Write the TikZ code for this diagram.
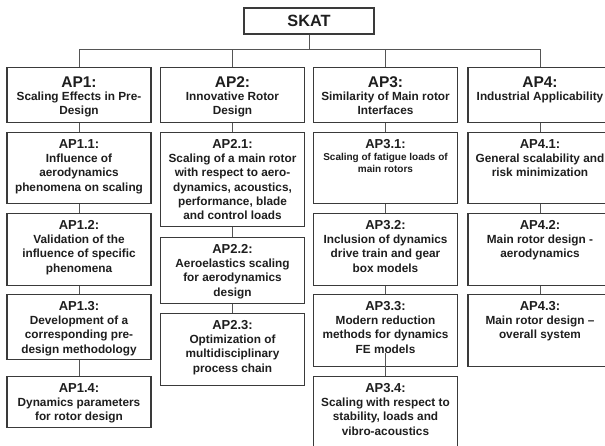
\documentclass[tikz,border=0pt]{standalone}
\usepackage{fontspec}
\setmainfont{Liberation Sans}
\definecolor{boxline}{HTML}{3A3A3A}
\definecolor{conline}{HTML}{555555}
\definecolor{txt}{HTML}{1E1E1E}
\newcommand{\bodyfont}{\fontsize{11.8}{14.3}\selectfont\bfseries}
\newcommand{\smallbody}{\fontsize{10}{12.9}\selectfont\bfseries}
\newcommand{\subtitlefont}{\fontsize{13}{14.3}\selectfont\bfseries}
\newcommand{\toptitlefont}{\fontsize{15.5}{14.3}\selectfont\bfseries}
% sub box: name, cx, top, height, title, body
\newcommand{\subbox}[6]{%
  \node[apbox, anchor=north] (#1) at (#2,#3)
    {\parbox[c][#4pt][t]{144pt}{\centering\bodyfont\rule{0pt}{15.5pt}{\subtitlefont #5}\\#6}};}
\newcommand{\topbox}[5]{%
  \node[apbox, anchor=north] (#1) at (#2,#3)
    {\parbox[c][#4pt][t]{144pt}{\centering\bodyfont\rule{0pt}{20pt}{\toptitlefont #5}\\[-1pt]#5}};}
\tikzset{
  apbox/.style={draw=boxline, line width=1.3pt, inner sep=0pt, text=txt, fill=white},
  conn/.style={draw=conline, line width=1pt},
}
\begin{document}
\begin{tikzpicture}[x=1pt,y=-1pt]
\path[use as bounding box, clip] (0,0) rectangle (605,446);
\fill[white] (0,0) rectangle (605,446);

\node[apbox, minimum width=130pt, minimum height=26pt, font=\fontsize{16.3}{18}\selectfont\bfseries] (skat) at (309,21) {SKAT};
\coordinate (bus) at (309,50);

% top level
\node[apbox, anchor=north] (ap1) at (79,67)
  {\parbox[c][55pt][t]{144pt}{\centering\bodyfont\rule{0pt}{20pt}{\toptitlefont AP1:}\\[-1.5pt]Scaling Effects in Pre-\\Design}};
\node[apbox, anchor=north] (ap2) at (232.5,67)
  {\parbox[c][55pt][t]{144pt}{\centering\bodyfont\rule{0pt}{20pt}{\toptitlefont AP2:}\\[-1.5pt]Innovative Rotor\\Design}};
\node[apbox, anchor=north] (ap3) at (385.5,67)
  {\parbox[c][55pt][t]{144pt}{\centering\bodyfont\rule{0pt}{20pt}{\toptitlefont AP3:}\\[-1.5pt]Similarity of Main rotor\\Interfaces}};
\node[apbox, anchor=north] (ap4) at (540,67)
  {\parbox[c][55pt][t]{144pt}{\centering\bodyfont\rule{0pt}{20pt}{\toptitlefont AP4:}\\[-1.5pt]Industrial Applicability}};

% column 1
\subbox{ap11}{79}{132}{71}{AP1.1:}{Influence of\\aerodynamics\\phenomena on scaling}
\subbox{ap12}{79}{213}{72}{AP1.2:}{Validation of the\\influence of specific\\phenomena}
\subbox{ap13}{79}{294}{65}{AP1.3:}{Development of a\\corresponding pre-\\design methodology}
\subbox{ap14}{79}{376}{51}{AP1.4:}{Dynamics parameters\\for rotor design}

% column 2
\subbox{ap21}{232.5}{132}{94}{AP2.1:}{Scaling of a main rotor\\with respect to aero-\\dynamics, acoustics,\\performance, blade\\and control loads}
\subbox{ap22}{232.5}{237}{66}{AP2.2:}{Aeroelastics scaling\\for aerodynamics\\design}
\subbox{ap23}{232.5}{313}{72}{AP2.3:}{Optimization of\\multidisciplinary\\process chain}

% column 3
\node[apbox, anchor=north] (ap31) at (385.5,132)
  {\parbox[c][71pt][t]{144pt}{\centering\smallbody\rule{0pt}{15.5pt}{\subtitlefont AP3.1:}\\[-1pt]Scaling of fatigue loads of\\main rotors}};
\subbox{ap32}{385.5}{213}{72}{AP3.2:}{Inclusion of dynamics\\drive train and gear\\box models}
\subbox{ap33}{385.5}{294}{72}{AP3.3:}{Modern reduction\\methods for dynamics\\FE models}
\subbox{ap34}{385.5}{376}{82}{AP3.4:}{Scaling with respect to\\stability, loads and\\vibro-acoustics}

% column 4
\subbox{ap41}{540}{132}{71}{AP4.1:}{General scalability and\\risk minimization}
\subbox{ap42}{540}{213}{72}{AP4.2:}{Main rotor design -\\aerodynamics}
\subbox{ap43}{540}{294}{72}{AP4.3:}{Main rotor design --\\overall system}

% connectors
\draw[conn] (skat.south) -- (bus);
\draw[conn] (ap1.north) -- (ap1.north |- bus) -- (ap4.north |- bus) -- (ap4.north);
\draw[conn] (ap2.north) -- (ap2.north |- bus);
\draw[conn] (ap3.north) -- (ap3.north |- bus);

\draw[conn] (ap1.south) -- (ap11.north);
\draw[conn] (ap11.south) -- (ap12.north);
\draw[conn] (ap12.south) -- (ap13.north);
\draw[conn] (ap13.south) -- (ap14.north);

\draw[conn] (ap2.south) -- (ap21.north);
\draw[conn] (ap21.south) -- (ap22.north);
\draw[conn] (ap22.south) -- (ap23.north);

\draw[conn] (ap3.south) -- (ap31.north);
\draw[conn] (ap31.south) -- (ap32.north);
\draw[conn] (ap32.south) -- (ap33.north);
\draw[conn] ([yshift=14pt]ap33.south) -- (ap34.north);

\draw[conn] (ap4.south) -- (ap41.north);
\draw[conn] (ap41.south) -- (ap42.north);
\draw[conn] (ap42.south) -- (ap43.north);
\end{tikzpicture}
\end{document}
